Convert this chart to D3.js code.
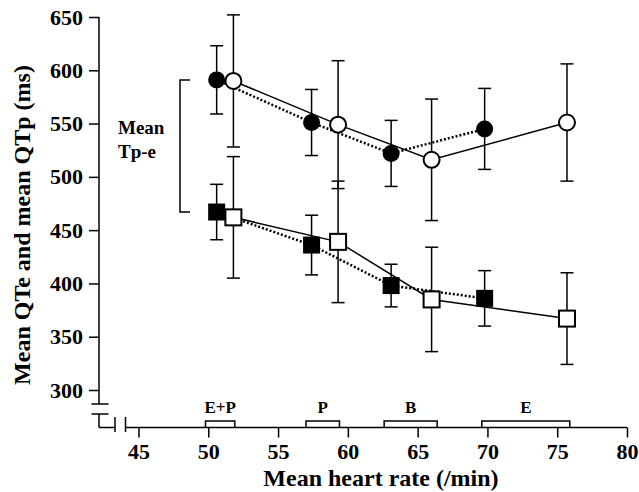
<!DOCTYPE html>
<html>
  <head>
    <title>QTe and QTp vs heart rate</title>
    <script src="https://cdn.jsdelivr.net/npm/d3@7"></script>
    <style>
      body { margin: 0; background: #fff; }
      text { font-family: "Liberation Serif", "Times New Roman", serif; font-weight: bold; fill: #000; }
    </style>
  </head>
  <body>
    <div id="main"></div>
    <script>
      var WIDTH = 639, HEIGHT = 492;

      // heart rate (x) for the two groups
      var filledHR = [50.6, 57.4, 63.1, 69.8];
      var openHR   = [51.8, 59.3, 66.0, 75.7];

      // QTp (circles) and QTe (squares), mean and SD
      var filledQTp    = [591, 551, 522, 545];
      var filledQTpErr = [32, 31, 31, 38];
      var openQTp      = [590, 549, 516, 551];
      var openQTpErr   = [62, 60, 57, 55];
      var filledQTe    = [467, 436, 398, 386];
      var filledQTeErr = [26, 28, 20, 26];
      var openQTe      = [462, 439, 385, 367];
      var openQTeErr   = [57, 57, 49, 43];

      // drug condition ranges shown above the x axis
      var condLabels = ["E+P", "P", "B", "E"];
      var condFrom   = [49.8, 57.0, 62.6, 69.6];
      var condTo     = [51.9, 59.4, 66.4, 75.9];

      var yTicks = [300, 350, 400, 450, 500, 550, 600, 650];
      var xTicks = [45, 50, 55, 60, 65, 70, 75, 80];

      var svg = d3.select('#main').append('svg')
                  .attr('width', WIDTH).attr('height', HEIGHT);

      var x = d3.scaleLinear().domain([45, 80]).range([138.5, 627]);
      var y = d3.scaleLinear().domain([300, 650]).range([390, 17]);

      var AXIS_Y = 427.5, AXIS_X = 99;

      // y axis (broken near the bottom)
      var yAxis = svg.append('g')
          .attr('transform', 'translate(' + AXIS_X + ',0)')
          .call(d3.axisLeft(y).tickValues(yTicks).tickSize(10).tickPadding(6));
      yAxis.select('.domain').remove();
      yAxis.selectAll('line').attr('stroke-width', 1.5);
      yAxis.selectAll('text').style('font-size', '22px').attr('font-family', null);

      var ax = svg.append('g').attr('stroke', '#000').attr('stroke-width', 1.5).attr('fill', 'none');
      ax.append('line').attr('x1', AXIS_X).attr('x2', AXIS_X).attr('y1', y(650)).attr('y2', 404);
      ax.append('line').attr('x1', 91.5).attr('x2', 108.5).attr('y1', 404).attr('y2', 404);
      ax.append('line').attr('x1', 91.5).attr('x2', 108.5).attr('y1', 414).attr('y2', 414);
      ax.append('line').attr('x1', AXIS_X).attr('x2', AXIS_X).attr('y1', 414).attr('y2', AXIS_Y);
      ax.append('line').attr('x1', AXIS_X).attr('x2', 115).attr('y1', AXIS_Y).attr('y2', AXIS_Y);
      ax.append('line').attr('x1', 115).attr('x2', 115).attr('y1', 417).attr('y2', 432);
      ax.append('line').attr('x1', 125.5).attr('x2', 125.5).attr('y1', 417).attr('y2', 432);
      ax.append('line').attr('x1', 125.5).attr('x2', x(80)).attr('y1', AXIS_Y).attr('y2', AXIS_Y);

      // x axis ticks
      var xAxis = svg.append('g')
          .attr('transform', 'translate(0,' + AXIS_Y + ')')
          .call(d3.axisBottom(x).tickValues(xTicks).tickSize(10).tickPadding(6));
      xAxis.select('.domain').remove();
      xAxis.selectAll('line').attr('stroke-width', 1.5);
      xAxis.selectAll('text').style('font-size', '22px').attr('font-family', null);

      // axis titles
      svg.append('text')
          .attr('x', 381).attr('y', 486)
          .attr('text-anchor', 'middle')
          .style('font-size', '24px')
          .text('Mean heart rate (/min)');
      svg.append('text')
          .attr('transform', 'translate(30,225) rotate(-90)')
          .attr('text-anchor', 'middle')
          .style('font-size', '24px')
          .text('Mean QTe and mean QTp (ms)');

      // condition brackets
      condLabels.forEach(function(lab, i) {
        var x0 = x(condFrom[i]), x1 = x(condTo[i]);
        svg.append('path')
            .attr('d', 'M' + x0 + ',' + AXIS_Y + 'V421H' + x1 + 'V' + AXIS_Y)
            .attr('fill', 'none').attr('stroke', '#000').attr('stroke-width', 1.5);
        svg.append('text')
            .attr('x', (x0 + x1) / 2).attr('y', 413)
            .attr('text-anchor', 'middle')
            .style('font-size', '17px')
            .text(lab);
      });

      // "Mean Tp-e" bracket from first QTp to first QTe
      svg.append('path')
          .attr('d', 'M190,' + y(filledQTp[0]) + 'H180V' + y(filledQTe[0]) + 'H190')
          .attr('fill', 'none').attr('stroke', '#000').attr('stroke-width', 1.5);
      svg.append('text').attr('x', 118).attr('y', 134).style('font-size', '19px').text('Mean');
      svg.append('text').attr('x', 118).attr('y', 158).style('font-size', '19px').text('Tp-e');

      function pts(xs, ys, es) {
        return xs.map(function(v, i) { return { x: v, y: ys[i], e: es[i] }; });
      }
      var fC = pts(filledHR, filledQTp, filledQTpErr);
      var oC = pts(openHR, openQTp, openQTpErr);
      var fS = pts(filledHR, filledQTe, filledQTeErr);
      var oS = pts(openHR, openQTe, openQTeErr);

      var line = d3.line().x(function(d) { return x(d.x); }).y(function(d) { return y(d.y); });

      // connecting lines: dotted for filled, solid for open
      [fC, fS].forEach(function(s) {
        svg.append('path').datum(s).attr('d', line)
            .attr('fill', 'none').attr('stroke', '#000')
            .attr('stroke-width', 2.5).attr('stroke-dasharray', '2,2');
      });
      [oC, oS].forEach(function(s) {
        svg.append('path').datum(s).attr('d', line)
            .attr('fill', 'none').attr('stroke', '#000').attr('stroke-width', 1.5);
      });

      // error bars
      function errorBars(data) {
        var g = svg.append('g').attr('stroke', '#000').attr('stroke-width', 1.5);
        data.forEach(function(d) {
          var cx = x(d.x);
          g.append('line').attr('x1', cx).attr('x2', cx).attr('y1', y(d.y + d.e)).attr('y2', y(d.y - d.e));
          g.append('line').attr('x1', cx - 6.5).attr('x2', cx + 6.5).attr('y1', y(d.y + d.e)).attr('y2', y(d.y + d.e));
          g.append('line').attr('x1', cx - 6.5).attr('x2', cx + 6.5).attr('y1', y(d.y - d.e)).attr('y2', y(d.y - d.e));
        });
      }
      [fC, oC, fS, oS].forEach(errorBars);

      // markers
      svg.selectAll('.fc').data(fC).enter().append('circle')
          .attr('cx', function(d) { return x(d.x); }).attr('cy', function(d) { return y(d.y); })
          .attr('r', 8.5).attr('fill', '#000');
      svg.selectAll('.oc').data(oC).enter().append('circle')
          .attr('cx', function(d) { return x(d.x); }).attr('cy', function(d) { return y(d.y); })
          .attr('r', 8).attr('fill', '#fff').attr('stroke', '#000').attr('stroke-width', 2);
      svg.selectAll('.fs').data(fS).enter().append('rect')
          .attr('x', function(d) { return x(d.x) - 8.5; }).attr('y', function(d) { return y(d.y) - 8.5; })
          .attr('width', 17).attr('height', 17).attr('fill', '#000');
      svg.selectAll('.os').data(oS).enter().append('rect')
          .attr('x', function(d) { return x(d.x) - 8; }).attr('y', function(d) { return y(d.y) - 8; })
          .attr('width', 16).attr('height', 16).attr('fill', '#fff').attr('stroke', '#000').attr('stroke-width', 2);
    </script>
  </body>
</html>
